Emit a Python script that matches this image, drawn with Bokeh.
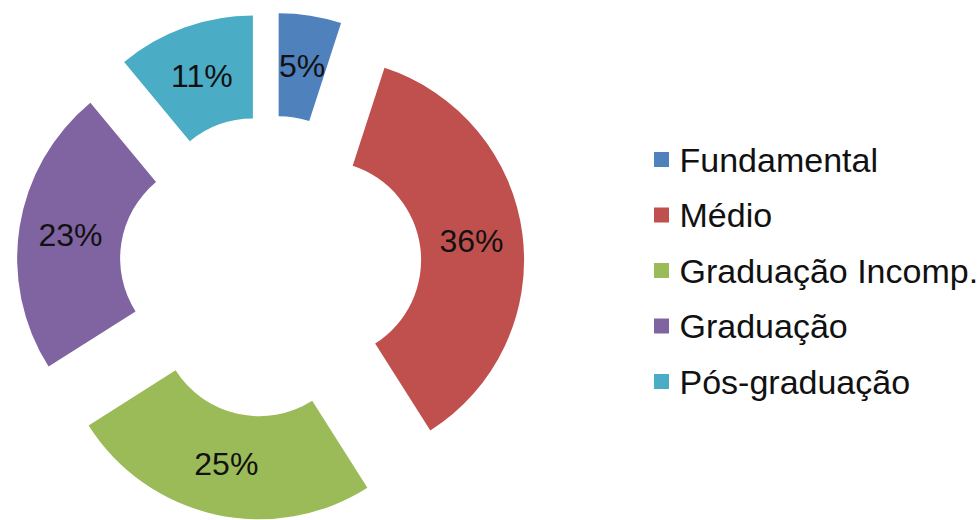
import math
from bokeh.plotting import figure
from bokeh.models import Range1d, ColumnDataSource
from bokeh.core.properties import value
from bokeh.embed import file_html
from bokeh.resources import INLINE

# ---- data ----
categories = ["Fundamental", "Médio", "Graduação Incomp.", "Graduação", "Pós-graduação"]
values = [5, 36, 25, 23, 11]
labels = ["5%", "36%", "25%", "23%", "11%"]
colors = ["#4F81BD", "#C0504D", "#9BBB59", "#8064A2", "#4BACC6"]

# ---- layout (page pixel coordinates, y measured downwards) ----
W, H = 979, 520
CX, CY = 270, 266          # donut centre
R_OUT, R_IN = 202, 99      # radii
EXPLODE = 52               # explosion distance
FONT = "Liberation Sans"

p = figure(width=W, height=H, output_backend="svg", toolbar_location=None,
           x_range=Range1d(0, W), y_range=Range1d(-H, 0),
           min_border=0, outline_line_color=None)
p.axis.visible = False
p.grid.visible = False
p.background_fill_color = "white"
p.border_fill_color = "white"

total = float(sum(values))
xs, ys, starts, ends, lx, ly = [], [], [], [], [], []
acc = 0.0
for v in values:
    t1 = acc / total * 2 * math.pi           # clockwise from 12 o'clock
    t2 = (acc + v) / total * 2 * math.pi
    tm = (t1 + t2) / 2
    acc += v
    ox = CX + EXPLODE * math.sin(tm)
    oy = -CY + EXPLODE * math.cos(tm)
    xs.append(ox)
    ys.append(oy)
    starts.append(math.pi / 2 - t2)
    ends.append(math.pi / 2 - t1)
    rm = (R_IN + R_OUT) / 2
    lx.append(ox + rm * math.sin(tm))
    ly.append(oy + rm * math.cos(tm))

src = ColumnDataSource(dict(x=xs, y=ys, start=starts, end=ends, color=colors,
                            lx=lx, ly=ly, label=labels, cat=categories))

p.annular_wedge(x="x", y="y", inner_radius=R_IN, outer_radius=R_OUT,
                start_angle="start", end_angle="end", fill_color="color",
                line_color=None, source=src)

p.text(x="lx", y="ly", text="label", source=src, text_align="center",
       text_baseline="middle", text_font=value(FONT), text_font_size="32px",
       text_color="#111111")

# ---- legend ----
LEG_X, LEG_Y0, LEG_DY = 661, 159, 55.5
leg_src = ColumnDataSource(dict(
    x=[LEG_X] * len(categories),
    tx=[LEG_X + 18] * len(categories),
    y=[-(LEG_Y0 + i * LEG_DY) for i in range(len(categories))],
    cat=categories, color=colors))
p.scatter(x="x", y="y", marker="square", size=15, fill_color="color",
          line_color=None, source=leg_src)
p.text(x="tx", y="y", text="cat", source=leg_src, text_align="left",
       text_baseline="middle", text_font=value(FONT), text_font_size="34px",
       text_color="#111111")

open("out.html", "w").write(file_html(p, INLINE))
